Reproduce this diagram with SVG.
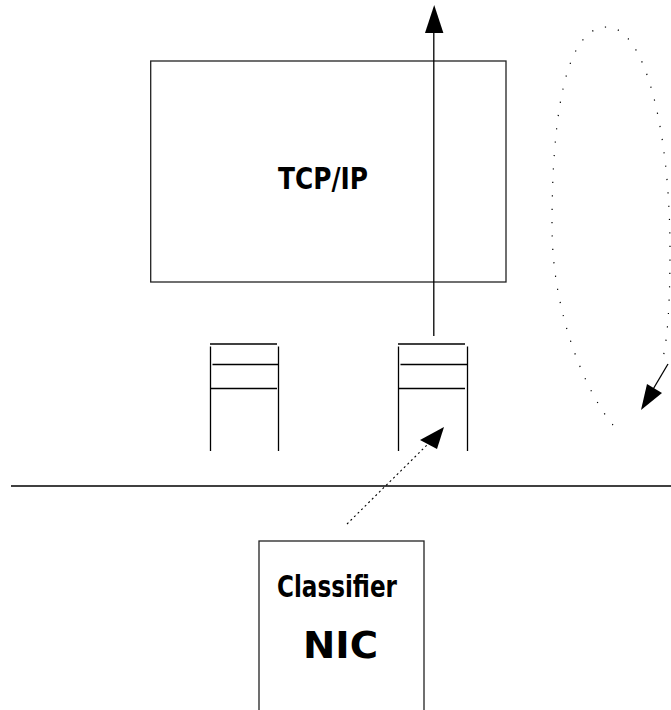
<svg xmlns="http://www.w3.org/2000/svg" width="671" height="710" viewBox="0 0 671 710">
  <style>
    .box { fill: #ffffff; stroke: #222222; stroke-width: 1.3; }
    .ln { stroke: #000000; stroke-width: 1.3; fill: none; }
    .dots { stroke: #000000; stroke-width: 1.2; fill: none; stroke-dasharray: 1.2 12.2; }
    .dash { stroke: #000000; stroke-width: 1.1; fill: none; stroke-dasharray: 2 3; }
    .head { fill: #000000; stroke: none; }
    .lbl { font-family: "DejaVu Sans", "Liberation Sans", sans-serif; font-stretch: condensed; font-weight: bold; fill: #000000; text-anchor: middle; }
  </style>

  <!-- protocol stack -->
  <g id="tcpip">
    <rect class="box" x="150.7" y="61" width="355.3" height="221"/>
    <text class="lbl" x="323" y="189" font-size="31" textLength="90" lengthAdjust="spacingAndGlyphs">TCP/IP</text>
  </g>

  <!-- receive queue 1 -->
  <g id="queue1">
    <line class="ln" x1="210" y1="344" x2="277" y2="344"/>
    <line class="ln" x1="212.5" y1="364.5" x2="279" y2="364.5"/>
    <line class="ln" x1="210" y1="388.5" x2="277" y2="388.5"/>
    <line class="ln" x1="210.5" y1="346.5" x2="210.5" y2="451"/>
    <line class="ln" x1="278.5" y1="346.5" x2="278.5" y2="451"/>
  </g>

  <!-- receive queue 2 -->
  <g id="queue2">
    <line class="ln" x1="398" y1="344" x2="465" y2="344"/>
    <line class="ln" x1="400.5" y1="364.5" x2="467.5" y2="364.5"/>
    <line class="ln" x1="398" y1="388.5" x2="465" y2="388.5"/>
    <line class="ln" x1="398.5" y1="346.5" x2="398.5" y2="451"/>
    <line class="ln" x1="467.5" y1="346.5" x2="467.5" y2="451"/>
  </g>

  <!-- bus / boundary line -->
  <g id="boundary">
    <line class="ln" x1="11" y1="486" x2="671" y2="486"/>
  </g>

  <!-- network card -->
  <g id="nic">
    <rect class="box" x="259" y="541" width="165" height="185"/>
    <text class="lbl" x="337" y="597" font-size="30" textLength="120" lengthAdjust="spacingAndGlyphs">Classifier</text>
    <text class="lbl" x="340.5" y="658" font-size="38" textLength="75" lengthAdjust="spacingAndGlyphs">NIC</text>
  </g>

  <g id="connectors">
    <!-- queue 2 up through the stack -->
    <line class="ln" x1="433.8" y1="336" x2="433.8" y2="30"/>
    <polygon class="head" points="434.2,5 425,33 443.4,33"/>

    <!-- classifier into queue 2 -->
    <line class="dash" x1="347" y1="524" x2="428" y2="444"/>
    <polygon class="head" points="444,427 420,440 437,449"/>

    <!-- polling loop -->
    <path class="dots" d="M613,425 C590,398 552,320 552,226 C552,140 560,27 607,27 C645,27 670,130 670,250 C670,300 668,335 663,358"/>
    <line class="ln" x1="668" y1="364" x2="652" y2="391"/>
    <polygon class="head" points="641,410 647,384 662,393"/>
  </g>
</svg>
